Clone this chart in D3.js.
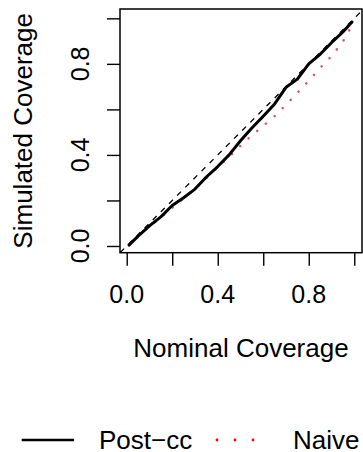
<!DOCTYPE html>
<html>
<head>
<meta charset="utf-8">
<script src="https://cdn.jsdelivr.net/npm/d3@7"></script>
<style>
  html, body { margin: 0; padding: 0; background: #fff; }
  svg { display: block; }
  text { font-family: "Liberation Sans", Arial, Helvetica, sans-serif; fill: #000; }
</style>
</head>
<body>
<svg id="chart" width="363" height="452"></svg>
<script>
// ---- data ----
const nominal = [0.01, 0.05, 0.10, 0.15, 0.20, 0.25, 0.30, 0.35, 0.40, 0.45, 0.50,
                 0.55, 0.60, 0.65, 0.70, 0.75, 0.80, 0.85, 0.90, 0.95, 0.99];
const postcc  = [0.004, 0.043, 0.088, 0.128, 0.178, 0.212, 0.250, 0.303, 0.349, 0.400, 0.462,
                 0.518, 0.570, 0.624, 0.697, 0.733, 0.800, 0.842, 0.893, 0.940, 0.984];
const naive   = [0.008, 0.043, 0.085, 0.125, 0.168, 0.208, 0.252, 0.298, 0.346, 0.392, 0.440,
                 0.486, 0.528, 0.570, 0.620, 0.672, 0.726, 0.782, 0.834, 0.898, 0.970];
const xTicks = [0, 0.2, 0.4, 0.6, 0.8, 1.0];
const yTicks = [0, 0.2, 0.4, 0.6, 0.8, 1.0];
const xTickLabels = ["0.0", "", "0.4", "", "0.8", ""];
const yTickLabels = ["0.0", "", "0.4", "", "0.8", ""];
const legendLabels = ["Post\u2212cc", "Naive"];
const xTitle = "Nominal Coverage";
const yTitle = "Simulated Coverage";

// ---- layout ----
const svg = d3.select("#chart");
const box = { left: 120, right: 362, top: 9, bottom: 252.7 };
const x = d3.scaleLinear().domain([-0.0295, 1.034]).range([box.left, box.right]);
const y = d3.scaleLinear().domain([-0.0295, 1.041]).range([box.bottom, box.top]);
const tickLen = 13;
const fontTick = 25, fontTitle = 26;

svg.append("defs").append("clipPath").attr("id", "clip")
  .append("rect")
  .attr("x", box.left).attr("y", box.top)
  .attr("width", box.right - box.left).attr("height", box.bottom - box.top);

// axes (ticks)
const xAxis = d3.axisBottom(x).tickValues(xTicks).tickSize(tickLen).tickFormat("");
const yAxis = d3.axisLeft(y).tickValues(yTicks).tickSize(tickLen).tickFormat("");
const gx = svg.append("g").attr("transform", `translate(0,${box.bottom})`).call(xAxis);
const gy = svg.append("g").attr("transform", `translate(${box.left},0)`).call(yAxis);
[gx, gy].forEach(g => {
  g.select(".domain").remove();
  g.selectAll(".tick line").attr("stroke", "#000").attr("stroke-width", 1.4);
});

// tick labels
svg.append("g").selectAll("text").data(xTicks).join("text")
  .attr("x", d => x(d)).attr("y", 303)
  .attr("text-anchor", "middle").attr("font-size", fontTick)
  .text((d, i) => xTickLabels[i]);
svg.append("g").selectAll("text").data(yTicks).join("text")
  .attr("transform", d => `translate(88.5,${y(d)}) rotate(-90)`)
  .attr("text-anchor", "middle").attr("font-size", fontTick)
  .text((d, i) => yTickLabels[i]);

// titles
svg.append("text")
  .attr("x", (box.left + box.right) / 2).attr("y", 357)
  .attr("text-anchor", "middle").attr("font-size", fontTitle)
  .text(xTitle);
svg.append("text")
  .attr("transform", `translate(31.5,${(box.top + box.bottom) / 2}) rotate(-90)`)
  .attr("text-anchor", "middle").attr("font-size", fontTitle)
  .text(yTitle);

// plot content
const plot = svg.append("g").attr("clip-path", "url(#clip)");
const line = d3.line().x(d => x(d[0])).y(d => y(d[1]));

// reference diagonal
plot.append("path")
  .attr("d", line([[-0.1, -0.1], [1.1, 1.1]]))
  .attr("fill", "none").attr("stroke", "#000").attr("stroke-width", 1.3)
  .attr("stroke-dasharray", "5.5 6");

// naive (dotted)
plot.append("path")
  .attr("d", line(nominal.map((v, i) => [v, naive[i]])))
  .attr("fill", "none").attr("stroke", "#DF536B").attr("stroke-width", 2.6)
  .attr("stroke-linecap", "round").attr("stroke-dasharray", "0.01 11.4");

// post-cc (solid)
plot.append("path")
  .attr("d", line(nominal.map((v, i) => [v, postcc[i]])))
  .attr("fill", "none").attr("stroke", "#000").attr("stroke-width", 3)
  .attr("stroke-linejoin", "round").attr("stroke-linecap", "round");

// box
svg.append("rect")
  .attr("x", box.left).attr("y", box.top)
  .attr("width", box.right - box.left).attr("height", box.bottom - box.top)
  .attr("fill", "none").attr("stroke", "#000").attr("stroke-width", 1.5);

// legend
const ly = 440;
svg.append("line").attr("x1", 21.7).attr("x2", 74).attr("y1", ly).attr("y2", ly)
  .attr("stroke", "#000").attr("stroke-width", 2.6);
svg.append("text").attr("x", 99).attr("y", 449).attr("font-size", fontTitle).text(legendLabels[0]);
svg.append("line").attr("x1", 217).attr("x2", 253.1).attr("y1", ly).attr("y2", ly)
  .attr("stroke", "#f00").attr("stroke-width", 2.8)
  .attr("stroke-linecap", "round").attr("stroke-dasharray", "0.01 18");
svg.append("text").attr("x", 293).attr("y", 449).attr("font-size", fontTitle).text(legendLabels[1]);
</script>
</body>
</html>
